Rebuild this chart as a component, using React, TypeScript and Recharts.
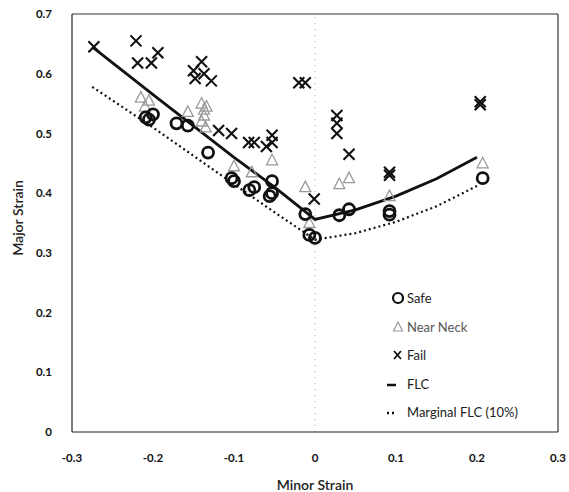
import {
  Legend,
  ReferenceLine,
  Scatter,
  ScatterChart,
  XAxis,
  YAxis,
} from "recharts";

type Pt = { x: number; y: number };

const safe: Pt[] = [
  { x: -0.209, y: 0.527 }, { x: -0.2, y: 0.532 }, { x: -0.205, y: 0.523 },
  { x: -0.171, y: 0.517 }, { x: -0.157, y: 0.513 }, { x: -0.132, y: 0.468 },
  { x: -0.103, y: 0.425 }, { x: -0.1, y: 0.42 }, { x: -0.081, y: 0.405 },
  { x: -0.075, y: 0.41 }, { x: -0.053, y: 0.42 }, { x: -0.053, y: 0.4 },
  { x: -0.056, y: 0.395 }, { x: -0.012, y: 0.365 }, { x: -0.007, y: 0.33 },
  { x: 0.0, y: 0.325 }, { x: 0.03, y: 0.363 }, { x: 0.042, y: 0.373 },
  { x: 0.092, y: 0.37 }, { x: 0.092, y: 0.364 }, { x: 0.207, y: 0.425 },
];

const nearNeck: Pt[] = [
  { x: -0.215, y: 0.56 }, { x: -0.205, y: 0.555 }, { x: -0.21, y: 0.545 },
  { x: -0.157, y: 0.536 }, { x: -0.14, y: 0.55 }, { x: -0.137, y: 0.54 },
  { x: -0.137, y: 0.53 }, { x: -0.14, y: 0.52 }, { x: -0.135, y: 0.51 },
  { x: -0.134, y: 0.545 }, { x: -0.1, y: 0.445 }, { x: -0.078, y: 0.435 },
  { x: -0.053, y: 0.455 }, { x: -0.012, y: 0.41 }, { x: -0.007, y: 0.35 },
  { x: 0.03, y: 0.415 }, { x: 0.042, y: 0.425 }, { x: 0.092, y: 0.395 },
  { x: 0.207, y: 0.45 },
];

const fail: Pt[] = [
  { x: -0.273, y: 0.645 }, { x: -0.221, y: 0.655 }, { x: -0.219, y: 0.618 },
  { x: -0.202, y: 0.618 }, { x: -0.194, y: 0.635 }, { x: -0.14, y: 0.62 },
  { x: -0.15, y: 0.605 }, { x: -0.148, y: 0.592 }, { x: -0.128, y: 0.588 },
  { x: -0.137, y: 0.6 }, { x: -0.119, y: 0.505 }, { x: -0.103, y: 0.5 },
  { x: -0.082, y: 0.485 }, { x: -0.075, y: 0.485 }, { x: -0.053, y: 0.497 },
  { x: -0.053, y: 0.485 }, { x: -0.06, y: 0.478 }, { x: -0.02, y: 0.585 },
  { x: -0.012, y: 0.585 }, { x: -0.001, y: 0.39 }, { x: 0.027, y: 0.53 },
  { x: 0.027, y: 0.517 }, { x: 0.027, y: 0.5 }, { x: 0.042, y: 0.465 },
  { x: 0.092, y: 0.435 }, { x: 0.092, y: 0.43 }, { x: 0.204, y: 0.553 },
  { x: 0.204, y: 0.548 },
];

const flc: Pt[] = [
  { x: -0.275, y: 0.645 }, { x: -0.2, y: 0.565 }, { x: -0.1, y: 0.46 },
  { x: -0.05, y: 0.41 }, { x: 0, y: 0.356 }, { x: 0.05, y: 0.372 },
  { x: 0.1, y: 0.395 }, { x: 0.15, y: 0.424 }, { x: 0.2, y: 0.46 },
];

const marginalFlc: Pt[] = [
  { x: -0.275, y: 0.578 }, { x: -0.2, y: 0.51 }, { x: -0.1, y: 0.415 },
  { x: -0.05, y: 0.368 }, { x: 0, y: 0.322 }, { x: 0.05, y: 0.333 },
  { x: 0.1, y: 0.352 }, { x: 0.15, y: 0.378 }, { x: 0.2, y: 0.412 },
];

const xTicks = [-0.3, -0.2, -0.1, 0, 0.1, 0.2, 0.3];
const yTicks = [0, 0.1, 0.2, 0.3, 0.4, 0.5, 0.6, 0.7];

const FONT = "Lato, 'Open Sans', sans-serif";

const Ring = (props: any) => (
  <circle cx={props.cx} cy={props.cy} r={5.5} fill="none" stroke="#111" strokeWidth={2.8} />
);

const Tri = (props: any) => {
  const { cx, cy } = props;
  return (
    <path
      d={`M${cx},${cy - 6} L${cx + 5.5},${cy + 4.5} L${cx - 5.5},${cy + 4.5} Z`}
      fill="none"
      stroke="#9a9a9a"
      strokeWidth={1.3}
    />
  );
};

const Cross = (props: any) => {
  const { cx, cy } = props;
  const s = 5.5;
  return (
    <path
      d={`M${cx - s},${cy - s} L${cx + s},${cy + s} M${cx + s},${cy - s} L${cx - s},${cy + s}`}
      stroke="#111"
      strokeWidth={2.1}
    />
  );
};

const NoDot = () => <g />;

const formatTick = (v: number) => (v === 0 ? "0" : String(v));

const legendRows = [
  { name: "Safe", icon: "ring" },
  { name: "Near Neck", icon: "tri" },
  { name: "Fail", icon: "cross" },
  { name: "FLC", icon: "line" },
  { name: "Marginal FLC (10%)", icon: "dots" },
];

function LegendIcon({ icon }: { icon: string }) {
  return (
    <svg width={20} height={14} style={{ marginRight: 3, flexShrink: 0 }}>
      {icon === "ring" && <circle cx={14} cy={7} r={5} fill="none" stroke="#111" strokeWidth={2.2} />}
      {icon === "tri" && (
        <path d="M14,2 L18.5,11 L9.5,11 Z" fill="none" stroke="#9a9a9a" strokeWidth={1.2} />
      )}
      {icon === "cross" && <path d="M10,3 L17,11 M17,3 L10,11" stroke="#111" strokeWidth={1.8} />}
      {icon === "line" && <line x1={3} y1={8} x2={12} y2={8} stroke="#111" strokeWidth={2.5} />}
      {icon === "dots" && (
        <line x1={3} y1={8} x2={12} y2={8} stroke="#111" strokeWidth={2.5} strokeDasharray="2 3" />
      )}
    </svg>
  );
}

const renderLegend = () => (
  <div style={{ fontFamily: FONT, fontSize: 13, color: "#222" }}>
    {legendRows.map((row) => (
      <div key={row.name} style={{ display: "flex", alignItems: "center", height: 28.5 }}>
        <LegendIcon icon={row.icon} />
        <span style={{ color: row.icon === "tri" ? "#555" : "#222" }}>{row.name}</span>
      </div>
    ))}
  </div>
);

export default function App() {
  return (
    <div style={{ position: "absolute", left: 0, top: 0, background: "#fff" }}>
      <ScatterChart width={569} height={492} margin={{ top: 14, right: 11, bottom: 0, left: 0 }}>
        <XAxis
          type="number"
          dataKey="x"
          domain={[-0.3, 0.3]}
          ticks={xTicks}
          tickFormatter={formatTick}
          tickLine={false}
          tickSize={0}
          tickMargin={22}
          height={60}
          axisLine={{ stroke: "#222", strokeWidth: 1.2 }}
          tick={{ fill: "#111", fontSize: 11.5, fontWeight: 700, fontFamily: FONT }}
          label={{
            value: "Minor Strain",
            position: "insideBottom",
            offset: 2,
            fill: "#222",
            fontSize: 14,
            fontFamily: FONT,
            fontWeight: 600,
          }}
        />
        <YAxis
          type="number"
          dataKey="y"
          domain={[0, 0.7]}
          ticks={yTicks}
          tickFormatter={formatTick}
          tickLine={false}
          tickSize={0}
          tickMargin={20}
          width={72}
          axisLine={{ stroke: "#222", strokeWidth: 1.2 }}
          tick={{ fill: "#111", fontSize: 11.5, fontWeight: 700, fontFamily: FONT }}
          label={{
            value: "Major Strain",
            angle: -90,
            position: "insideLeft",
            offset: 18,
            dy: -5,
            style: { textAnchor: "middle" },
            fill: "#222",
            fontSize: 14,
            fontFamily: FONT,
            fontWeight: 600,
          }}
        />
        <ReferenceLine y={0.7} stroke="#333" strokeWidth={1.2} />
        <ReferenceLine x={0.3} stroke="#333" strokeWidth={1.2} />
        <ReferenceLine x={0} stroke="#aaa" strokeDasharray="1 5" />
        <Legend
          content={renderLegend}
          layout="vertical"
          align="center"
          verticalAlign="middle"
          wrapperStyle={{ left: 384, top: 284, width: 170 }}
        />
        <Scatter name="FLC" data={flc} shape={NoDot} line={{ stroke: "#111", strokeWidth: 2.8 }} isAnimationActive={false} />
        <Scatter
          name="Marginal FLC (10%)"
          data={marginalFlc}
          shape={NoDot}
          line={{ stroke: "#111", strokeWidth: 2.2, strokeDasharray: "2 3" }}
          isAnimationActive={false}
        />
        <Scatter name="Near Neck" data={nearNeck} shape={Tri} isAnimationActive={false} />
        <Scatter name="Safe" data={safe} shape={Ring} isAnimationActive={false} />
        <Scatter name="Fail" data={fail} shape={Cross} isAnimationActive={false} />
      </ScatterChart>
    </div>
  );
}
